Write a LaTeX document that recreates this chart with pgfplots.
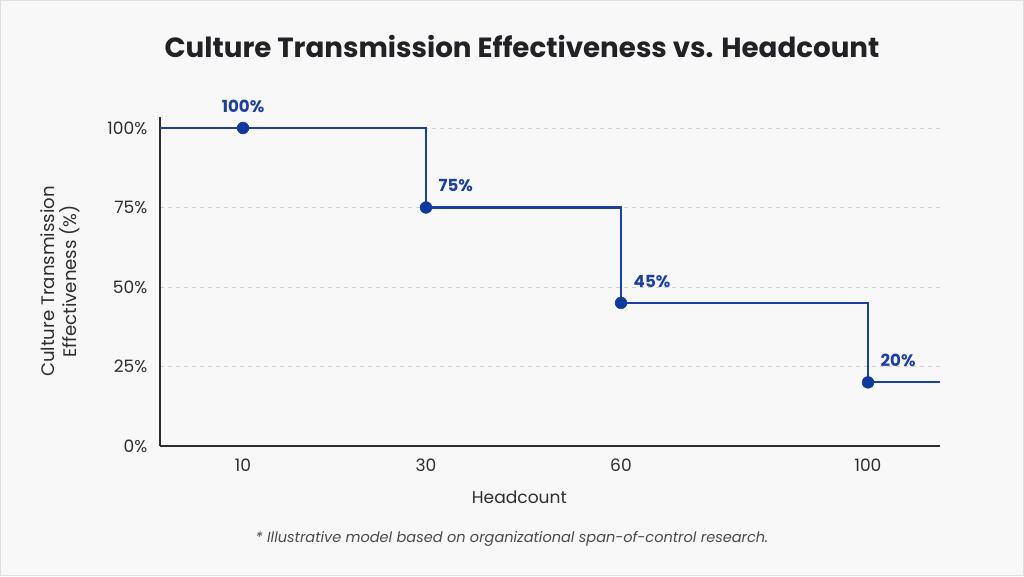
\documentclass[border=0pt]{standalone}
\usepackage{pgfplots}
\pgfplotsset{compat=1.18}
\usepackage{fontspec}
\setmainfont{Poppins}
\definecolor{stepblue}{HTML}{1D3FA3}
\definecolor{dotblue}{HTML}{0E3A9E}
\definecolor{axisgray}{HTML}{2E2E2E}
\definecolor{gridgray}{HTML}{CFCFCF}
\definecolor{bggray}{HTML}{F8F8F8}
\definecolor{titleink}{HTML}{222226}
\definecolor{noteink}{HTML}{4A4A4A}

% step positions along the headcount axis (10, 30, 60, 100)
\pgfplotstableread{
x   y
0   100
266 75
461 45
708 20
780 20
}\steptable
\pgfplotstableread{
x   y
83  100
}\firstpoint
\pgfplotstableread{
x   y
266 75
461 45
708 20
}\droppoints

\begin{document}
\begin{tikzpicture}[x=0.75pt,y=0.75pt]
  \fill[bggray] (0,0) rectangle (1024,576);
  \draw[gray!25, line width=0.75pt] (0.5,0.5) rectangle (1023.5,575.5);

  \node[font=\bfseries\fontsize{20.8}{24}\selectfont, text=titleink] at (522,529) {Culture Transmission Effectiveness vs. Headcount};

  \begin{axis}[
    at={(120pt,97.5pt)}, anchor=origin,
    x=0.75pt, y=2.385pt,
    xmin=0, xmax=780, ymin=0, ymax=103.5,
    axis x line*=bottom, axis y line*=left,
    axis line style={axisgray, line width=1.4pt, -},
    xtick={83,266,461,708}, xticklabels={10,30,60,100},
    ytick={0,25,50,75,100}, yticklabels={0\%,25\%,50\%,75\%,100\%},
    major tick length=0pt,
    ymajorgrids, grid style={gridgray, dashed, line width=0.5pt},
    /pgf/number format/assume math mode=true,
    tick label style={font=\fontsize{12.8}{14}\selectfont, text=axisgray},
    xticklabel style={yshift=-6pt},
    yticklabel style={xshift=-6pt},
    xlabel={Headcount},
    xlabel style={font=\fontsize{12.8}{14}\selectfont, text=axisgray, yshift=-8pt, xshift=-23pt},
    ylabel={Culture Transmission\\Effectiveness (\%)},
    ylabel style={font=\fontsize{13.6}{16.5}\selectfont, text=axisgray, align=center, yshift=14pt},
    clip=false,
    every node near coord/.append style={font=\bfseries\fontsize{12.5}{14}\selectfont, text=stepblue},
  ]
    \addplot[const plot, stepblue, line width=1.6pt] table[x=x,y=y] {\steptable};
    \addplot[only marks, mark=*, mark size=4.4pt, mark options={fill=dotblue, draw=dotblue},
      nodes near coords={\pgfmathprintnumber{\pgfplotspointmeta}\%},
      point meta=explicit,
      nodes near coords style={anchor=south, yshift=8pt},
    ] table[x=x,y=y,meta=y] {\firstpoint};
    \addplot[only marks, mark=*, mark size=4.4pt, mark options={fill=dotblue, draw=dotblue},
      nodes near coords={\pgfmathprintnumber{\pgfplotspointmeta}\%},
      point meta=explicit,
      nodes near coords style={anchor=south west, xshift=6pt, yshift=8pt},
    ] table[x=x,y=y,meta=y] {\droppoints};
  \end{axis}

  \node[font=\itshape\fontsize{10.9}{13}\selectfont, text=noteink] at (512,37) {* Illustrative model based on organizational span-of-control research.};
\end{tikzpicture}
\end{document}
